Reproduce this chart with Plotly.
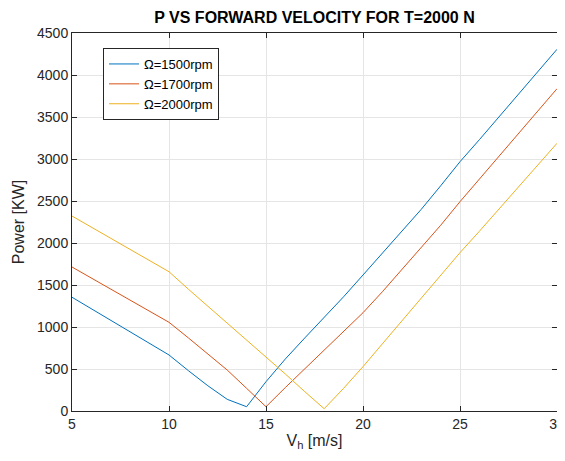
import plotly.graph_objects as go

x_vals = [5, 10, 11, 12, 13, 14, 15, 16, 17, 18, 19, 20, 21, 22, 23, 24, 25, 26, 27, 28, 29, 30]
p_1500 = [1354, 667, 480, 301, 139, 51, 349, 620, 870, 1110, 1360, 1619, 1880, 2140, 2400, 2680, 2968, 3230, 3500, 3770, 4040, 4306]
p_1700 = [1714, 1056, 870, 680, 488, 270, 51, 280, 500, 720, 940, 1170, 1420, 1680, 1940, 2210, 2492, 2760, 3030, 3300, 3570, 3837]
p_2000 = [2321, 1658, 1450, 1250, 1050, 840, 647, 440, 230, 27, 270, 528, 800, 1070, 1340, 1610, 1885, 2140, 2400, 2660, 2920, 3187]
series_names = ["Ω=1500rpm", "Ω=1700rpm", "Ω=2000rpm"]
colors = ["#0072BD", "#D95319", "#EDB120"]

fig = go.Figure()
for name, vals, c in zip(series_names, [p_1500, p_1700, p_2000], colors):
    fig.add_trace(go.Scatter(x=x_vals, y=vals, mode="lines", name=name,
                             line=dict(color=c, width=1)))

axis_common = dict(
    showline=True, linecolor="#262626", linewidth=1, mirror="allticks",
    ticks="inside", ticklen=5, tickcolor="#262626", automargin=False,
    showgrid=True, gridcolor="#e5e5e5", gridwidth=1, zeroline=False,
    ticklabeloverflow="allow",
    tickfont=dict(family="Liberation Sans, Arial, sans-serif", size=14, color="#262626"),
)

# the page body has an 8px margin on every side, so the figure is sized and
# offset to fit the 565x461 window without scrolling
W, H = 557, 443
fig.update_layout(
    width=W, height=H,
    margin=dict(l=64, r=8, t=25, b=40),
    paper_bgcolor="white", plot_bgcolor="white",
    font=dict(family="Liberation Sans, Arial, sans-serif", color="#262626"),
    title=dict(text="<b>P VS FORWARD VELOCITY FOR T=2000 N</b>",
               x=(314.5 - 8) / W, xanchor="center", xref="container",
               y=1 - (17 - 8) / H, yanchor="middle", yref="container",
               font=dict(size=16, color="#000000")),
    xaxis=dict(range=[5, 30], dtick=5, tick0=5,
               title=dict(text="V<sub>h</sub> [m/s]", font=dict(size=16, color="#262626"), standoff=11),
               **axis_common),
    yaxis=dict(range=[0, 4500], dtick=500, tick0=0,
               title=dict(text="Power [KW]", font=dict(size=16, color="#262626"), standoff=8),
               **axis_common),
    legend=dict(x=(103 - 72) / 485, y=(411 - 48) / 378, xanchor="left", yanchor="top",
                bgcolor="white", bordercolor="#262626", borderwidth=1,
                font=dict(size=13, color="#000000"), tracegroupgap=0,
                itemwidth=30),
    showlegend=True,
)

fig.write_html("out.html")
